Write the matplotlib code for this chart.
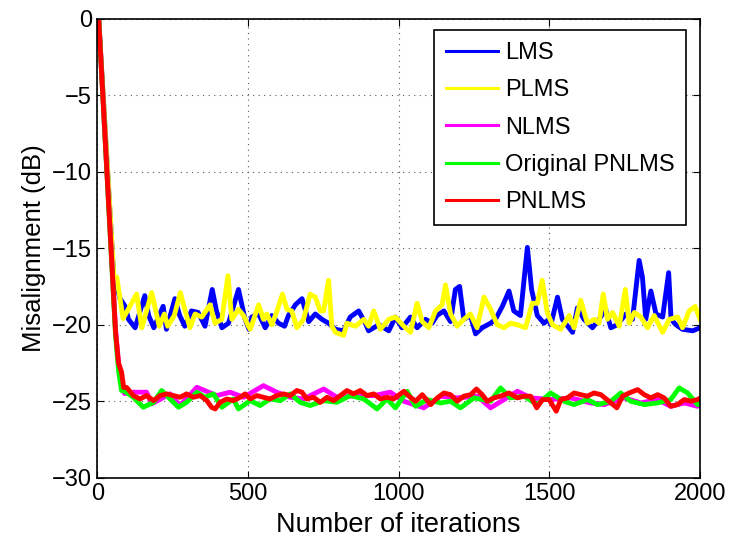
import matplotlib
matplotlib.use('Agg')
import matplotlib.pyplot as plt

plt.rcParams['font.family'] = ['Liberation Sans', 'DejaVu Sans']

# LMS (blue)
lms_x = [4, 55, 65, 75, 92, 103, 125, 157, 170, 187, 218, 229, 257, 273, 290, 312, 334, 357, 381, 395,
         413, 435, 468, 490, 503, 512, 535, 557, 579, 601, 621, 634, 657, 679, 701, 723, 745, 767, 790,
         817, 839, 867, 889, 900, 934, 967, 989, 1011, 1039, 1061, 1089, 1111, 1127, 1150, 1172, 1188,
         1202, 1216, 1238, 1255, 1277, 1305, 1321, 1344, 1366, 1382, 1404, 1427, 1441, 1460, 1482, 1499,
         1505, 1527, 1543, 1577, 1593, 1615, 1643, 1665, 1687, 1704, 1726, 1754, 1776, 1798, 1809, 1820,
         1837, 1854, 1876, 1896, 1904, 1920, 1942, 1976, 2000]
lms_y = [0, -17.2, -17.6, -18.3, -18.8, -19.65, -20.2, -18.1, -19.4, -20.2, -18.8, -20.3, -18.3, -19.4,
         -20.1, -19.1, -19.2, -20.1, -17.7, -19.1, -20.2, -19.9, -17.7, -19.65, -20.3, -19.5, -19.3, -20.2,
         -19.4, -19.9, -20.1, -19.4, -18.7, -18.3, -19.8, -19.3, -19.65, -19.9, -20.3, -20.4, -19.5, -19.1,
         -19.9, -20.4, -20.0, -20.4, -19.5, -20.2, -19.5, -20.2, -19.65, -19.9, -19.4, -19.1, -19.8, -17.7,
         -17.5, -19.65, -19.4, -20.6, -20.2, -19.9, -19.65, -18.8, -17.8, -19.1, -19.4, -14.95, -17.7,
         -19.4, -19.9, -19.65, -20.0, -18.2, -19.65, -20.5, -18.9, -19.65, -20.2, -19.65, -19.0, -20.2,
         -20.0, -19.3, -19.65, -15.8, -16.9, -19.65, -17.8, -19.3, -19.5, -16.6, -19.65, -20.0, -20.3,
         -20.4, -20.2]

# PLMS (yellow)
plms_x = [4, 55, 64, 85, 130, 147, 180, 205, 222, 233, 255, 275, 290, 307, 324, 346, 374, 390, 413, 433,
          446, 468, 485, 501, 507, 535, 551, 562, 579, 596, 614, 629, 645, 662, 684, 706, 723, 740, 751,
          767, 778, 790, 817, 828, 856, 884, 900, 917, 939, 967, 989, 1017, 1039, 1061, 1078, 1100, 1122,
          1144, 1155, 1172, 1194, 1216, 1238, 1260, 1283, 1305, 1327, 1349, 1371, 1393, 1421, 1443, 1460,
          1476, 1493, 1510, 1538, 1566, 1582, 1604, 1626, 1649, 1665, 1679, 1693, 1710, 1732, 1752, 1765,
          1782, 1804, 1826, 1848, 1876, 1898, 1926, 1942, 1964, 1984, 2000]
plms_y = [0, -17.0, -16.9, -19.6, -18.0, -20.2, -17.9, -20.1, -19.3, -20.1, -19.4, -17.9, -19.0, -20.2,
          -19.3, -19.5, -18.7, -19.9, -19.65, -16.8, -19.65, -19.0, -19.4, -20.1, -20.3, -18.7, -19.65,
          -19.3, -20.0, -19.1, -18.0, -19.0, -19.1, -20.2, -19.65, -18.0, -18.2, -19.1, -19.1, -17.1, -20.1,
          -20.5, -20.7, -19.9, -20.1, -19.65, -20.1, -19.1, -20.3, -19.65, -19.5, -20.1, -20.5, -18.6, -19.8,
          -20.2, -19.1, -18.7, -17.4, -19.3, -20.1, -19.65, -19.3, -20.2, -18.2, -19.0, -20.0, -20.2, -19.9,
          -20.0, -20.2, -18.6, -18.6, -17.1, -19.2, -20.0, -20.3, -19.4, -20.2, -18.4, -19.9, -19.65, -19.9,
          -18.0, -19.65, -19.2, -20.1, -17.7, -19.9, -19.2, -19.5, -20.2, -19.4, -20.5, -19.65, -19.5, -20.2,
          -19.1, -18.8, -19.65]

# NLMS (magenta)
nlms_x = [4, 60, 70, 80, 90, 119, 163, 180, 241, 274, 330, 396, 440, 485, 551, 595, 640, 684, 751, 795,
          861, 917, 972, 1017, 1083, 1139, 1194, 1261, 1305, 1394, 1438, 1504, 1571, 1637, 1682, 1748, 1804,
          1859, 1903, 1948, 1992, 2000]
nlms_y = [0, -20.3, -22.6, -24.0, -24.5, -24.41, -24.41, -25.17, -24.52, -25.28, -24.09, -24.63, -24.41,
          -24.74, -23.98, -24.41, -24.74, -24.85, -24.2, -24.74, -24.63, -24.63, -24.41, -25.0, -25.43,
          -24.67, -24.78, -24.67, -25.43, -24.35, -24.78, -24.89, -24.78, -25.11, -25.22, -24.78, -25.11,
          -24.89, -25.33, -25.11, -25.33, -25.2]

# Original PNLMS (green)
opnlms_x = [4, 60, 70, 80, 86, 119, 152, 186, 213, 241, 269, 296, 330, 357, 385, 413, 451, 468, 507, 540,
            573, 607, 640, 673, 706, 751, 795, 839, 884, 928, 961, 989, 1028, 1056, 1094, 1139, 1172, 1205,
            1250, 1305, 1338, 1371, 1416, 1460, 1504, 1549, 1582, 1626, 1660, 1704, 1737, 1770, 1815, 1859,
            1903, 1931, 1959, 1992, 2000]
opnlms_y = [0, -20.7, -23.0, -24.3, -24.3, -24.74, -25.39, -25.07, -24.3, -24.85, -25.39, -25.07, -24.41,
            -24.74, -24.52, -25.39, -24.85, -25.5, -24.96, -25.28, -24.85, -24.96, -24.52, -25.07, -25.28,
            -24.96, -25.07, -24.63, -24.85, -25.5, -24.85, -25.43, -24.35, -25.33, -24.89, -25.11, -25.0,
            -25.43, -24.78, -25.0, -24.13, -24.78, -24.67, -25.22, -24.46, -25.0, -25.22, -24.89, -25.22,
            -25.0, -24.46, -25.0, -25.22, -25.11, -24.89, -24.13, -24.46, -25.22, -25.1]

# PNLMS (red)
pnlms_x = [4, 60, 70, 80, 87, 97, 119, 141, 163, 186, 208, 230, 252, 274, 296, 318, 341, 363, 379, 391,
           407, 429, 451, 474, 490, 507, 529, 551, 573, 595, 618, 640, 662, 679, 695, 717, 740, 762, 784,
           806, 828, 850, 872, 895, 917, 939, 961, 983, 995, 1017, 1034, 1056, 1078, 1106, 1128, 1150, 1172,
           1194, 1216, 1239, 1258, 1277, 1294, 1316, 1338, 1366, 1394, 1416, 1438, 1458, 1477, 1499, 1523,
           1538, 1560, 1582, 1604, 1626, 1648, 1671, 1698, 1724, 1743, 1765, 1793, 1815, 1837, 1859, 1881,
           1903, 1925, 1948, 1970, 1992, 2000]
pnlms_y = [0, -20.5, -22.5, -23.1, -24.1, -24.1, -24.63, -24.85, -24.63, -24.96, -24.63, -24.52, -24.63,
           -24.74, -24.52, -24.74, -24.63, -24.96, -25.4, -25.5, -25.07, -24.85, -24.96, -24.74, -24.52,
           -24.85, -24.63, -24.74, -24.85, -24.63, -24.52, -24.63, -24.3, -24.41, -24.85, -24.74, -25.07,
           -24.74, -24.96, -24.63, -24.3, -24.52, -24.3, -24.63, -24.52, -24.85, -24.74, -24.85, -24.67,
           -24.35, -24.67, -25.0, -24.57, -25.22, -24.78, -24.46, -24.57, -25.0, -24.67, -24.57, -24.2,
           -24.57, -25.0, -24.78, -24.67, -24.46, -24.78, -24.67, -24.67, -25.43, -24.89, -24.89, -25.65,
           -24.89, -24.78, -24.46, -24.57, -24.67, -24.46, -24.57, -25.0, -25.43, -24.67, -24.46, -24.24,
           -24.57, -24.78, -24.57, -24.78, -25.33, -25.22, -24.89, -25.0, -24.89, -24.8]

fig = plt.figure(figsize=(7.29, 5.4), dpi=100)
ax = fig.add_axes([0.1337, 0.1152, 0.8265, 0.8505])

lw = 3.5
ax.plot(lms_x, lms_y, color=(0, 0, 1), lw=lw, label='LMS')
ax.plot(plms_x, plms_y, color=(1, 1, 0), lw=lw, label='PLMS')
ax.plot(nlms_x, nlms_y, color=(1, 0, 1), lw=lw, label='NLMS')
ax.plot(opnlms_x, opnlms_y, color=(0, 1, 0), lw=lw, label='Original PNLMS')
ax.plot(pnlms_x, pnlms_y, color=(1, 0, 0), lw=lw, label='PNLMS')

ax.set_xlim(0, 2000)
ax.set_ylim(-30, 0)
ax.set_xticks([0, 500, 1000, 1500, 2000])
ax.set_yticks([-30, -25, -20, -15, -10, -5, 0])
ax.tick_params(direction='in', top=True, right=True, labelsize=17, length=5, pad=4)
ax.grid(True, linestyle=(0, (1, 4)), color='0.35', lw=0.8)
for s in ax.spines.values():
    s.set_linewidth(1.2)

ax.set_xlabel('Number of iterations', fontsize=19.5, labelpad=5)
ax.set_ylabel('Misalignment (dB)', fontsize=18.5, labelpad=4)

leg = ax.legend(loc='upper right', bbox_to_anchor=(0.977, 0.975), borderaxespad=0,
                fontsize=17, fancybox=False, edgecolor='black', framealpha=1,
                handlelength=2.2, labelspacing=0.65, borderpad=0.5, handletextpad=0.3)
leg.get_frame().set_linewidth(1.2)
for line in leg.get_lines():
    line.set_linewidth(2.2)

fig.savefig('out.png', dpi=100)
